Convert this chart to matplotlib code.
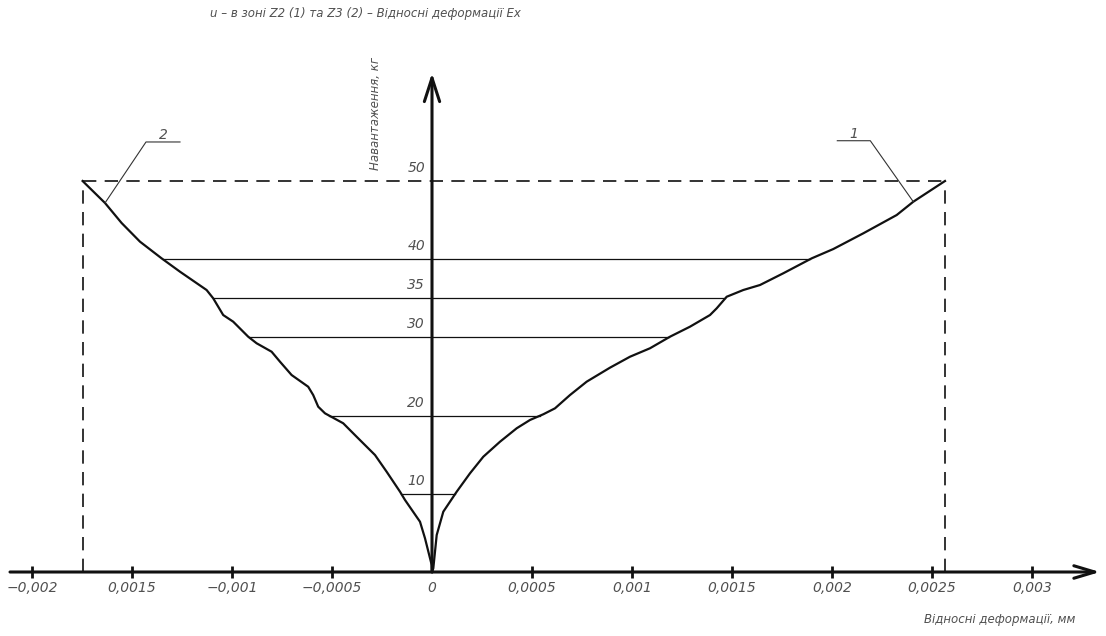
import numpy as np
import matplotlib
matplotlib.use("Agg")
import matplotlib.pyplot as plt

# ---------------- data ----------------
# Curve 2 (zone Z3) : relative strain (negative side) vs load, kg
strain_2 = [-0.001747, -0.001635, -0.001552, -0.001460, -0.001352, -0.001260,
            -0.001127, -0.001094, -0.001044, -0.000994, -0.000919, -0.000877,
            -0.000802, -0.000760, -0.000702, -0.000619, -0.000594, -0.000569,
            -0.000535, -0.000444, -0.000377, -0.000285, -0.000227, -0.000160,
            -0.000135, -0.000060, -0.000035, -0.0000015, 0.0]
load_2 = [50.0, 47.19, 44.63, 42.24, 40.11, 38.40, 36.06, 35.0, 32.86, 32.01,
          30.09, 29.25, 28.17, 26.89, 25.19, 23.69, 22.63, 21.14, 20.29, 19.02,
          17.30, 14.96, 12.83, 10.27, 9.21, 6.43, 4.31, 0.9, 0.0]

# Curve 1 (zone Z2)
strain_1 = [0.0, 0.0000065, 0.0000235, 0.0000565, 0.0001235, 0.000190, 0.0002565,
            0.000340, 0.0004235, 0.000490, 0.0005565, 0.000615, 0.000690,
            0.0007735, 0.000890, 0.000990, 0.001090, 0.001190, 0.001290,
            0.001390, 0.0014235, 0.0014735, 0.0015565, 0.001640, 0.0017565,
            0.0018985, 0.0020065, 0.0021565, 0.0023235, 0.0024065, 0.002565]
load_1 = [0.0, 0.47, 4.73, 7.71, 10.27, 12.62, 14.74, 16.66, 18.38, 19.44, 20.17,
          20.93, 22.63, 24.34, 26.13, 27.53, 28.61, 30.09, 31.37, 32.86, 33.72,
          35.2, 36.06, 36.70, 38.20, 40.11, 41.30, 43.31, 45.65, 47.35, 50.0]

load_levels = [10, 20, 30, 35, 40]
load_labels = ["10", "20", "30", "35", "40", "50"]
load_label_values = [10, 20, 30, 35, 40, 50]

x_tick_values = [-0.002, -0.0015, -0.001, -0.0005, 0, 0.0005, 0.001, 0.0015,
                 0.002, 0.0025, 0.003]
x_tick_labels = ["−0,002", "0,0015", "−0,001", "−0,0005", "0", "0,0005",
                 "0,001", "0,0015", "0,002", "0,0025", "0,003"]

title = "u – в зоні Z2 (1) та Z3 (2) – Відносні деформації Ex"
ylabel = "Навантаження, кг"
xlabel = "Відносні деформації, мм"

# ---------------- layout ----------------
W, H = 1106, 636
X0_PX, Y0_PX = 432, 572          # origin in pixels (from top-left)
SX = 200000.0                    # px per strain unit
SY = 7.82                        # px per kg

FONT = ["Liberation Sans Narrow", "DejaVu Sans"]
TXT = "#505050"
INK = "#111111"

fig = plt.figure(figsize=(W / 100, H / 100), dpi=100)
ax = fig.add_axes([0, 0, 1, 1])
ax.set_xlim(-X0_PX / SX, (W - X0_PX) / SX)
ax.set_ylim((Y0_PX - H) / SY, Y0_PX / SY)
ax.axis("off")

def px2d(px, py):
    return (px - X0_PX) / SX, (Y0_PX - py) / SY

# axes with arrows
xa0, _ = px2d(10, 0)
xa1, _ = px2d(1100, 0)
ax.annotate("", xy=(xa1, 0), xytext=(xa0, 0),
            arrowprops=dict(arrowstyle="->,head_length=1.5,head_width=0.45",
                            lw=2.2, color=INK, shrinkA=0, shrinkB=0))
_, ya1 = px2d(0, 73)
ax.annotate("", xy=(0, ya1), xytext=(0, 0),
            arrowprops=dict(arrowstyle="->,head_length=1.7,head_width=0.55",
                            lw=2.2, color=INK, shrinkA=0, shrinkB=0))

# x ticks and labels
tv = [v for v in x_tick_values if v != 0]
ax.plot(tv, np.zeros(len(tv)), ls="none", marker="|", ms=9, mew=2.0, color=INK)
for v, lab in zip(x_tick_values, x_tick_labels):
    ax.text(v, -16 / SY, lab, ha="center", va="center", fontsize=10,
            style="italic", family=FONT, color=TXT)

# dashed frame at the maximum load
xl, xr = strain_2[0], strain_1[-1]
ytop = max(load_1)
dash = dict(color=INK, lw=1.2, ls=(0, (8, 5)))
ax.plot([xl, xr], [ytop, ytop], **dash)
ax.plot([xl, xl], [0, load_2[0]], **dash)
ax.plot([xr, xr], [0, load_1[-1]], **dash)

# horizontal load levels between the curves
for lv in load_levels:
    xa = np.interp(lv, load_2[::-1], strain_2[::-1])
    xb = np.interp(lv, load_1, strain_1)
    ax.plot([xa, xb], [lv, lv], color=INK, lw=0.9)

# curves
ax.plot(strain_1, load_1, color=INK, lw=1.6)
ax.plot(strain_2, load_2, color=INK, lw=1.6)

# y level labels
for v, lab in zip(load_label_values, load_labels):
    ax.text(-7 / SX, v + 13 / SY, lab, ha="right", va="center", fontsize=10,
            style="italic", family=FONT, color=TXT)

# leader lines
def leader(idx_strain, idx_load, dx1, dy1, dx2, label):
    x0, y0 = idx_strain, idx_load
    x1, y1 = x0 + dx1 / SX, y0 + dy1 / SY
    x2 = x1 + dx2 / SX
    ax.plot([x0, x1, x2], [y0, y1, y1], color="#333333", lw=0.8)
    ax.text((x1 + x2) / 2, y1 + 7 / SY, label, ha="center", va="center",
            fontsize=10, style="italic", family=FONT, color=TXT)

leader(strain_2[1], load_2[1], 41, 61, 34, "2")
leader(strain_1[-2], load_1[-2], -43, 61, -33, "1")

# titles
fig.text(365 / W, 1 - 14 / H, title, ha="center", va="center", fontsize=8.5,
         style="italic", family=FONT, color=TXT)
fig.text(376 / W, 1 - 113 / H, ylabel, ha="center", va="center", fontsize=8.5,
         rotation=90, style="italic", family=FONT, color=TXT)
fig.text(1000 / W, 1 - 620 / H, xlabel, ha="center", va="center", fontsize=8.5,
         style="italic", family=FONT, color=TXT)

fig.savefig("out.png", dpi=100)
